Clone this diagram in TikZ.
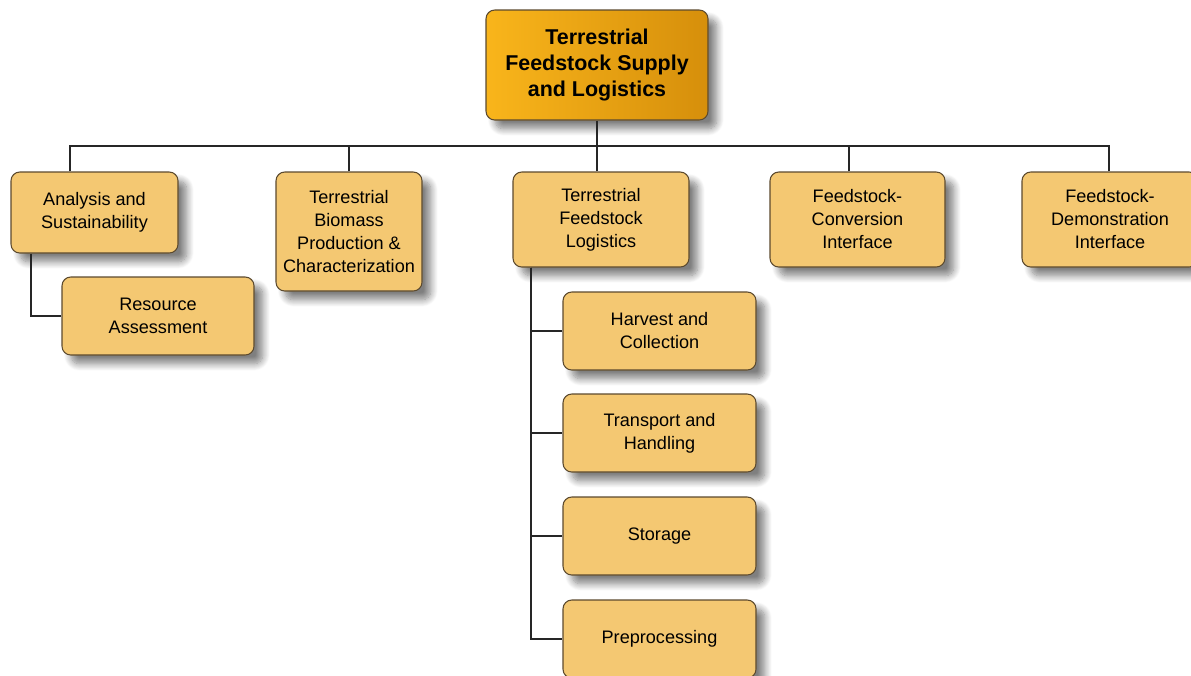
\documentclass[tikz,border=0pt]{standalone}
\usepackage{fontspec}
\setmainfont{Liberation Sans}
\usetikzlibrary{calc,shadows.blur}
\definecolor{boxfill}{HTML}{F4C872}
\definecolor{boxline}{HTML}{5C4A2E}
\definecolor{topleft}{HTML}{F9B51B}
\definecolor{topright}{HTML}{D68F0B}
\tikzset{
  unit/.style={draw=boxline, line width=0.6pt, fill=boxfill, rounded corners=5pt,
    align=center, inner sep=2pt,
    font=\fontsize{10.3}{13.1}\selectfont,
    blur shadow={shadow xshift=5pt, shadow yshift=-5pt, shadow blur radius=4pt,
      shadow blur steps=10, shadow opacity=50}},
  head/.style={unit, left color=topleft, right color=topright,
    font=\fontsize{12.2}{14.8}\selectfont\bfseries},
  link/.style={line width=1.1pt, draw=black!85}
}

\begin{document}
\begin{tikzpicture}
			%%%%% START %%%%%
			\useasboundingbox (0, 0) rectangle (23.82, -13.5);
			
			\node[head, minimum width=4.44cm, minimum height=2.2cm] (top) at (11.94, -1.3) {Terrestrial\\Feedstock Supply\\and Logistics};
			
			\node[unit, minimum width=3.34cm, minimum height=1.62cm] (ana) at (1.89, -4.25) {Analysis and\\Sustainability};
			\node[unit, minimum width=2.92cm, minimum height=2.38cm] (bio) at (6.98, -4.63) {Terrestrial\\Biomass\\Production \&\\Characterization};
			\node[unit, minimum width=3.52cm, minimum height=1.9cm] (log) at (12.02, -4.39) {Terrestrial\\Feedstock\\Logistics};
			\node[unit, minimum width=3.5cm, minimum height=1.9cm] (conv) at (17.15, -4.39) {Feedstock-\\Conversion\\Interface};
			\node[unit, minimum width=3.52cm, minimum height=1.9cm] (demo) at (22.2, -4.39) {Feedstock-\\Demonstration\\Interface};
			
			\node[unit, minimum width=3.84cm, minimum height=1.56cm] (res) at (3.16, -6.32) {Resource\\Assessment};
			
			\node[unit, minimum width=3.86cm, minimum height=1.56cm] (harv) at (13.19, -6.62) {Harvest and\\Collection};
			\node[unit, minimum width=3.86cm, minimum height=1.56cm] (trans) at (13.19, -8.66) {Transport and\\Handling};
			\node[unit, minimum width=3.86cm, minimum height=1.56cm] (stor) at (13.19, -10.72) {Storage};
			\node[unit, minimum width=3.86cm, minimum height=1.56cm] (pre) at (13.19, -12.78) {Preprocessing};
			
			% bus under the top box
			\draw[link] (top.south) -- ++(0, -0.5) coordinate (bus);
			\draw[link] ([xshift=-0.49cm]ana.north) |- (bus);
			\draw[link] (bio.north) |- (bus);
			\draw[link] ([xshift=-0.08cm]log.north) |- (bus);
			\draw[link] ([xshift=-0.17cm]conv.north) |- (bus);
			\draw[link] ([xshift=-0.02cm]demo.north) |- (bus);
			
			\draw[link] ([xshift=-1.27cm]ana.south) |- (res.west);
			
			\coordinate (trunk) at ([xshift=-1.4cm]log.south);
			\foreach \n in {harv, trans, stor, pre}
				\draw[link] (trunk) |- (\n.west);
			
			%%%%% END %%%%%
		\end{tikzpicture}
\end{document}
